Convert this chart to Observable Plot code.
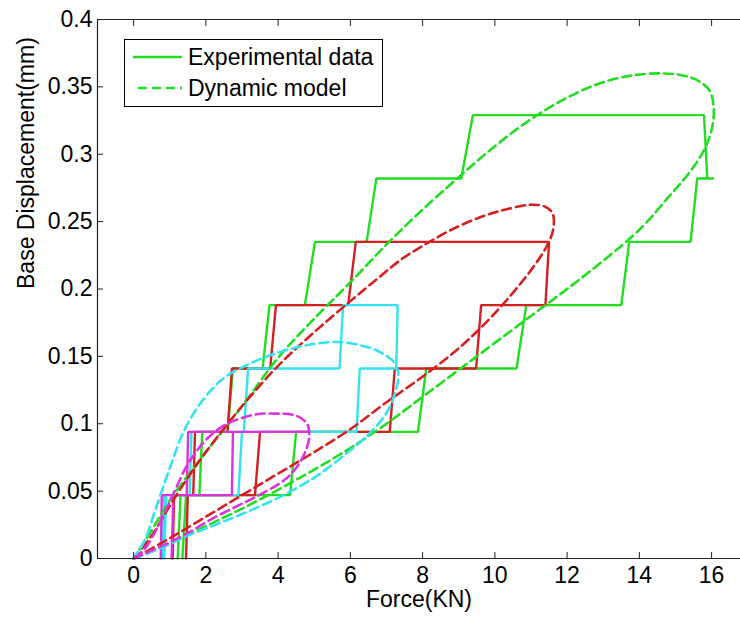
<!DOCTYPE html>
<html>
<head>
<meta charset="utf-8">
<script src="https://cdn.jsdelivr.net/npm/d3@7"></script>
<script src="https://cdn.jsdelivr.net/npm/@observablehq/plot@0.6"></script>
<style>
  body { margin: 0; background: #fff; }
  #wrap { position: relative; width: 740px; height: 617px; font-family: "Liberation Sans", Arial, sans-serif; }
  #legend { position: absolute; left: 124px; top: 39px; }
</style>
</head>
<body>
<div id="wrap"><div id="chart"></div><div id="legend"></div></div>
<script>
// ---------- data ----------
const xTicks = [0, 2, 4, 6, 8, 10, 12, 14, 16];
const yTicks = [0, 0.05, 0.1, 0.15, 0.2, 0.25, 0.3, 0.35, 0.4];
const yTickLabels = ["0", "0.05", "0.1", "0.15", "0.2", "0.25", "0.3", "0.35", "0.4"];
const legendLabels = ["Experimental data", "Dynamic model"];

const colors = { green: "#22dd22", red: "#d42020", cyan: "#33e3ef", magenta: "#dd33dd" };

// Experimental (staircase) loops
const expGreenX = [1.35, 1.45, 4.33, 4.5, 7.87, 8.1, 10.6, 10.87, 13.5, 13.72, 15.42, 15.6, 16.07, 15.88, 15.79, 9.39, 9.07, 6.72, 6.45, 5.02, 4.74, 3.76, 3.57, 2.75, 2.6, 1.9, 1.82, 1.3, 1.22];
const expGreenY = [0, 0.047, 0.047, 0.094, 0.094, 0.141, 0.141, 0.188, 0.188, 0.235, 0.235, 0.282, 0.282, 0.282, 0.329, 0.329, 0.282, 0.282, 0.235, 0.235, 0.188, 0.188, 0.141, 0.141, 0.094, 0.094, 0.047, 0.047, 0];

const expRedX = [1.45, 1.5, 3.36, 3.5, 7.09, 7.23, 9.48, 9.62, 11.4, 11.5, 6.15, 5.94, 3.94, 3.78, 2.72, 2.6, 1.7, 1.65, 1.12, 1.08];
const expRedY = [0, 0.047, 0.047, 0.094, 0.094, 0.141, 0.141, 0.188, 0.188, 0.235, 0.235, 0.188, 0.188, 0.141, 0.141, 0.094, 0.094, 0.047, 0.047, 0];

const expCyanX = [0.85, 0.9, 2.9, 3.0, 6.17, 6.26, 7.27, 7.31, 5.8, 5.7, 3.17, 3.05, 1.6, 1.55, 0.85, 0.8];
const expCyanY = [0, 0.047, 0.047, 0.094, 0.094, 0.141, 0.141, 0.188, 0.188, 0.141, 0.141, 0.094, 0.094, 0.047, 0.047, 0];

const expMagentaX = [1.05, 1.1, 2.72, 2.75, 4.83, 1.51, 1.47, 0.78, 0.75];
const expMagentaY = [0, 0.047, 0.047, 0.094, 0.094, 0.094, 0.047, 0.047, 0];

// Dynamic model loops
const modGreenX = [0, 1, 2, 3, 4, 5, 6, 7, 8, 9, 10, 11, 12, 13, 14, 14.8, 15.4, 15.79, 16.0, 16.06, 15.95, 15.6, 15.2, 14.64, 13.8, 12.89, 12, 11, 10, 9, 8, 7, 6, 5, 4, 3, 2, 1, 0.5, 0];
const modGreenY = [0, 0.011, 0.024, 0.037, 0.051, 0.066, 0.082, 0.100, 0.120, 0.140, 0.160, 0.180, 0.200, 0.221, 0.244, 0.268, 0.287, 0.303, 0.318, 0.333, 0.347, 0.355, 0.3585, 0.360, 0.3585, 0.3525, 0.342, 0.326, 0.306, 0.283, 0.259, 0.233, 0.205, 0.178, 0.149, 0.113, 0.079, 0.043, 0.021, 0];

const modRedX = [0, 1, 2, 3, 4, 5, 6, 7, 8, 9, 10, 11, 11.46, 11.62, 11.6, 11.4, 11.0, 10.3, 9.67, 8.8, 8, 7.41, 6.81, 6, 5, 4, 3, 2, 1.5, 1, 0.5, 0];
const modRedY = [0, 0.015, 0.031, 0.047, 0.063, 0.079, 0.096, 0.116, 0.135, 0.156, 0.182, 0.214, 0.233, 0.245, 0.256, 0.261, 0.2625, 0.259, 0.254, 0.244, 0.232, 0.222, 0.209, 0.191, 0.168, 0.143, 0.113, 0.079, 0.060, 0.039, 0.017, 0];

const modCyanX = [0, 0.5, 1, 1.5, 2.26, 3, 4, 5, 5.8, 6.5, 7.0, 7.25, 7.33, 7.2, 6.9, 6.58, 5.65, 4.55, 3.8, 3.17, 2.5, 1.9, 1.4, 1.0, 0.6, 0.3, 0];
const modCyanY = [0, 0.005, 0.011, 0.017, 0.025, 0.033, 0.045, 0.060, 0.076, 0.092, 0.108, 0.124, 0.137, 0.146, 0.152, 0.156, 0.1607, 0.157, 0.151, 0.144, 0.134, 0.117, 0.095, 0.067, 0.036, 0.013, 0];

const modMagentaX = [0, 0.5, 1, 1.5, 2.26, 3.36, 4.0, 4.37, 4.7, 4.86, 4.8, 4.5, 4.0, 3.4, 2.81, 2.4, 2.0, 1.5, 1.1, 0.7, 0.3, 0];
const modMagentaY = [0, 0.006, 0.012, 0.019, 0.0307, 0.0455, 0.055, 0.063, 0.076, 0.090, 0.100, 0.106, 0.1075, 0.107, 0.1025, 0.097, 0.088, 0.070, 0.048, 0.025, 0.007, 0];

// ---------- build ----------
const pts = (xs, ys) => xs.map((x, i) => ({x, y: ys[i]}));
const series = [
  {c: colors.green, exp: pts(expGreenX, expGreenY), mod: pts(modGreenX, modGreenY)},
  {c: colors.red, exp: pts(expRedX, expRedY), mod: pts(modRedX, modRedY)},
  {c: colors.cyan, exp: pts(expCyanX, expCyanY), mod: pts(modCyanX, modCyanY)},
  {c: colors.magenta, exp: pts(expMagentaX, expMagentaY), mod: pts(modMagentaX, modMagentaY)}
];

const lineMarks = [];
for (const s of series) {
  lineMarks.push(Plot.line(s.exp, {x: "x", y: "y", stroke: s.c, strokeWidth: 2.4, strokeLinejoin: "miter"}));
}
for (const s of series) {
  lineMarks.push(Plot.line(s.mod, {x: "x", y: "y", stroke: s.c, strokeWidth: 2.6, strokeDasharray: "9,5", curve: "catmull-rom"}));
}

const axisColor = "#222";
const chart = Plot.plot({
  width: 740,
  height: 617,
  marginLeft: 97,
  marginRight: 0,
  marginTop: 19,
  marginBottom: 59,
  x: {domain: [-1, 16.8]},
  y: {domain: [0, 0.4]},
  style: {fontFamily: "'Liberation Sans', Arial, sans-serif", fontSize: "23px", color: "#000", background: "#fff"},
  marks: [
    ...lineMarks,
    Plot.ruleY([0.4], {stroke: axisColor, strokeWidth: 1.2}),
    Plot.ruleY([0], {stroke: axisColor, strokeWidth: 1.2}),
    Plot.ruleX([-1], {stroke: axisColor, strokeWidth: 1.2}),
    Plot.axisX(xTicks, {anchor: "bottom", tickSize: -6, tickPadding: 14, label: null, stroke: axisColor, fill: "#000", tickFormat: d => String(d)}),
    Plot.axisX(xTicks, {anchor: "top", tickSize: -6, label: null, stroke: axisColor, tickFormat: () => ""}),
    Plot.axisY(yTicks, {anchor: "left", tickSize: -6, tickPadding: 11, label: null, stroke: axisColor, fill: "#000", tickFormat: d => yTickLabels[yTicks.indexOf(d)]}),
    Plot.text(["Force(KN)"], {frameAnchor: "bottom", dy: 48, fill: "#000"}),
    Plot.text(["Base Displacement(mm)"], {frameAnchor: "left", dx: -71, rotate: -90, fill: "#000"})
  ]
});
document.getElementById("chart").appendChild(chart);

// ---------- legend (inside plot, top-left) ----------
const lg = d3.select("#legend").append("svg").attr("width", 260).attr("height", 69)
  .style("font-family", "'Liberation Sans', Arial, sans-serif").style("font-size", "23px");
lg.append("rect").attr("x", 0.5).attr("y", 0.5).attr("width", 258).attr("height", 67)
  .attr("fill", "#fff").attr("stroke", "#000").attr("stroke-width", 1);
const rows = [{dash: null, y: 18}, {dash: "9,5", y: 49}];
rows.forEach((r, i) => {
  lg.append("line").attr("x1", r.dash ? 14 : 9).attr("x2", 58).attr("y1", r.y).attr("y2", r.y)
    .attr("stroke", colors.green).attr("stroke-width", 2.6).attr("stroke-dasharray", r.dash);
  lg.append("text").attr("x", 64).attr("y", r.y).attr("dy", "0.36em").attr("fill", "#000").text(legendLabels[i]);
});
</script>
</body>
</html>
